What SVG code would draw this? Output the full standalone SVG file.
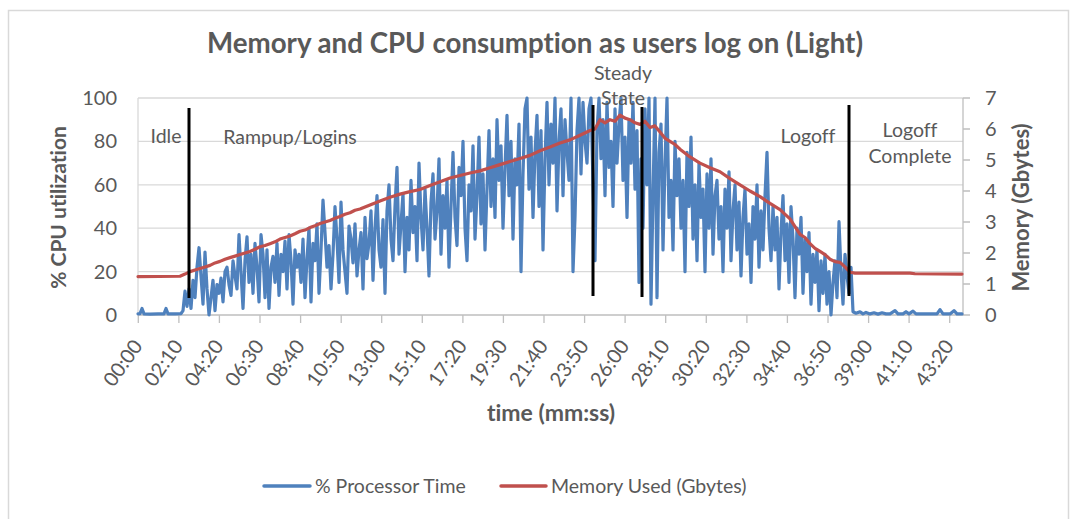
<svg xmlns="http://www.w3.org/2000/svg" width="1074" height="519" viewBox="0 0 1074 519">
<style>
text{font-family:Lato,"Open Sans","Liberation Sans",sans-serif;fill:#595959;font-variant-ligatures:none}
.t{font-size:19.5px}
.ax{font-size:20px}
.b{font-weight:bold;font-size:21px}
.grid{stroke:#d9d9d9;stroke-width:1.3;fill:none}
.axis{stroke:#bfbfbf;stroke-width:1.3;fill:none}
.cpu{fill:none;stroke:#4f81bd;stroke-width:3.2;stroke-linejoin:round;stroke-linecap:round}
.mem{fill:none;stroke:#c0504d;stroke-width:3.2;stroke-linejoin:round;stroke-linecap:round}
.mark{stroke:#000;stroke-width:3}
</style>
<rect x="8.5" y="10.5" width="1060" height="530" fill="#fff" stroke="#d9d9d9" stroke-width="1.5"/>
<g id="title"><text x="535" y="53" text-anchor="middle" style="font-size:27.7px;font-weight:bold">Memory and CPU consumption as users log on (Light)</text></g>
<g id="grid">
<path class="grid" d="M138,98H963M138,141.4H963M138,184.8H963M138,228.2H963M138,271.6H963M138,98V315"/>
</g>
<g id="axes">
<path class="axis" d="M138,315H963M963,98V315M963,98h7M963,129h7M963,160h7M963,191h7M963,222h7M963,253h7M963,284h7M963,315h7"/>
<path class="axis" d="M138.3,315v8M178.9,315v8M219.4,315v8M260,315v8M300.6,315v8M341.2,315v8M381.7,315v8M422.3,315v8M462.9,315v8M503.4,315v8M544,315v8M584.6,315v8M625.1,315v8M665.7,315v8M706.3,315v8M746.9,315v8M787.4,315v8M828,315v8M868.6,315v8M909.1,315v8M949.7,315v8"/>
<g class="ax" text-anchor="end">
<text x="117" y="105">100</text><text x="117" y="148.4">80</text><text x="117" y="191.8">60</text><text x="117" y="235.2">40</text><text x="117" y="278.6">20</text><text x="117" y="322">0</text>
</g>
<g class="ax">
<text x="985" y="105">7</text><text x="985" y="136">6</text><text x="985" y="167">5</text><text x="985" y="198">4</text><text x="985" y="229">3</text><text x="985" y="260">2</text><text x="985" y="291">1</text><text x="985" y="322">0</text>
</g>
<g class="ax" text-anchor="end">
<text transform="translate(143.3,346) rotate(-55)">00:00</text>
<text transform="translate(183.9,346) rotate(-55)">02:10</text>
<text transform="translate(224.4,346) rotate(-55)">04:20</text>
<text transform="translate(265,346) rotate(-55)">06:30</text>
<text transform="translate(305.6,346) rotate(-55)">08:40</text>
<text transform="translate(346.2,346) rotate(-55)">10:50</text>
<text transform="translate(386.7,346) rotate(-55)">13:00</text>
<text transform="translate(427.3,346) rotate(-55)">15:10</text>
<text transform="translate(467.9,346) rotate(-55)">17:20</text>
<text transform="translate(508.4,346) rotate(-55)">19:30</text>
<text transform="translate(549,346) rotate(-55)">21:40</text>
<text transform="translate(589.6,346) rotate(-55)">23:50</text>
<text transform="translate(630.1,346) rotate(-55)">26:00</text>
<text transform="translate(670.7,346) rotate(-55)">28:10</text>
<text transform="translate(711.3,346) rotate(-55)">30:20</text>
<text transform="translate(751.9,346) rotate(-55)">32:30</text>
<text transform="translate(792.4,346) rotate(-55)">34:40</text>
<text transform="translate(833,346) rotate(-55)">36:50</text>
<text transform="translate(873.6,346) rotate(-55)">39:00</text>
<text transform="translate(914.1,346) rotate(-55)">41:10</text>
<text transform="translate(954.7,346) rotate(-55)">43:20</text>
</g>
<text class="b" transform="translate(66,207.5) rotate(-90)" text-anchor="middle">% CPU utilization</text>
<text class="b" transform="translate(1029,207.5) rotate(-90)" text-anchor="middle" style="font-size:22px">Memory (Gbytes)</text>
<text class="b" x="551" y="421" text-anchor="middle" style="font-size:23px">time (mm:ss)</text>
</g>
<g id="series-cpu">
<polyline class="cpu" vector-effect="non-scaling-stroke" transform="matrix(1,0,0,-2.17,0,315)" points="138,0.5 140,0.6 142,3 144,0.5 150,0.4 158,0.5 164,0.5 166,3 168,0.5 175,0.5 181,0.6 183,2 185,11 187,4 189,12 191,3 193,16 195,8 197,22 199,31 201,18 203,5 205,29 207,12 209,0 211,8 213,16 215,2 217,14 219,10 221,17 223,6 225,20 227,22 229,14 231,9 233,25 235,18 237,12 239,37 241,20 243,3 245,25 247,36 249,15 251,28 253,10 255,33 257,22 259,6 261,37 263,28 265,8 267,30 269,3 271,22 273,27 275,15 277,33 279,9 281,28 283,20 285,34 287,12 289,37 291,25 293,5 295,30 297,22 299,28 301,15 303,35 305,8 307,26 309,40 311,6 313,33 315,25 317,42 319,10 321,30 323,53 325,38 327,22 329,32 331,12 333,28 335,50 337,35 339,15 341,52 343,30 345,20 347,10 349,41 351,35 353,24 355,42 357,18 359,30 361,38 363,12 365,45 367,26 369,33 371,48 373,16 375,40 377,55 379,30 381,22 383,44 385,10 387,48 389,60 391,35 393,25 395,50 397,68 399,28 401,42 403,56 405,20 407,45 409,30 411,62 413,38 415,50 417,25 419,70 421,45 423,30 425,58 427,40 429,18 431,52 433,65 435,35 437,48 439,72 441,28 443,55 445,40 447,62 449,22 451,50 453,75 455,45 457,32 459,68 461,55 463,80 465,40 467,25 469,60 471,48 473,78 475,35 477,55 479,82 481,42 483,65 485,30 487,58 489,85 491,50 493,72 495,45 497,90 499,62 501,78 503,40 505,68 507,92 509,55 511,80 513,35 515,72 517,60 519,88 521,20 523,65 525,95 527,100 529,58 531,82 533,45 535,75 537,92 539,50 541,85 543,30 545,72 547,98 549,60 551,88 553,70 555,100 557,48 559,80 561,95 563,55 565,90 567,75 569,62 571,100 573,20 575,45 577,85 579,100 581,65 583,98 585,80 587,70 589,95 591,100 593,60 595,25 597,85 599,100 601,72 603,90 605,55 607,98 609,68 611,80 613,50 615,95 617,70 619,88 621,100 623,62 625,82 627,45 629,90 631,70 633,98 635,58 637,85 639,15 641,72 643,40 645,95 647,60 649,100 651,5 653,55 655,100 657,8 659,75 661,88 663,30 665,70 667,100 669,45 671,62 673,30 675,80 677,55 679,72 681,40 683,62 685,20 687,75 689,50 691,82 693,35 695,60 697,25 699,70 701,45 703,58 705,20 707,65 709,40 711,72 713,28 715,55 717,62 719,35 721,50 723,20 725,58 727,40 729,66 731,25 733,48 735,60 737,30 739,52 741,18 743,45 745,58 747,28 749,42 751,15 753,50 755,35 757,60 759,22 761,48 763,30 765,55 767,75 769,40 771,25 773,50 775,30 777,45 779,12 781,38 783,55 785,25 787,42 789,15 791,50 793,35 795,8 797,40 799,28 801,45 803,10 805,35 807,20 809,38 811,5 813,28 815,15 817,30 819,2 821,25 823,10 825,28 827,5 829,20 831,0 833,15 835,25 837,8 839,43 841,20 843,5 845,28 847,18 849,10 851,22 853,1.5 856,0.8 860,1.5 863,0.5 866,1.2 870,0.5 874,1 878,0.4 882,1 886,0.5 890,0.5 895,2 898,0.5 903,0.5 906,1.5 909,0.5 913,1.8 916,0.5 920,0.5 930,0.5 937,0.5 940,2.5 943,0.5 950,0.5 954,2 957,0.5 962,0.5"/>
</g>
<g id="series-memory">
<polyline class="mem" vector-effect="non-scaling-stroke" transform="matrix(1,0,0,-31,0,315)" points="138,1.24 180,1.25 185,1.32 190,1.4 195,1.45 200,1.5 205,1.55 210,1.6 215,1.68 220,1.73 225,1.8 230,1.85 235,1.9 240,1.95 245,2.0 250,2.05 255,2.12 260,2.2 265,2.24 270,2.3 275,2.36 280,2.45 285,2.5 290,2.55 295,2.62 300,2.7 305,2.74 310,2.82 315,2.88 320,2.95 325,3.0 330,3.05 335,3.12 340,3.18 345,3.25 350,3.3 355,3.38 360,3.42 370,3.55 380,3.68 390,3.8 400,3.9 410,3.98 420,4.05 430,4.18 440,4.3 450,4.42 460,4.5 470,4.58 480,4.65 490,4.75 500,4.85 510,4.95 520,5.05 530,5.15 540,5.3 550,5.42 560,5.55 570,5.65 580,5.8 590,5.95 595,6.0 600,6.3 605,6.2 610,6.3 615,6.25 620,6.45 625,6.35 630,6.3 635,6.2 640,6.15 645,6.25 650,6.05 655,6.1 660,5.9 665,5.7 670,5.6 675,5.5 680,5.35 690,5.1 700,4.9 710,4.75 720,4.62 730,4.4 740,4.2 750,4.0 760,3.82 770,3.6 780,3.4 790,3.1 800,2.6 805,2.5 810,2.3 815,2.15 820,2.05 825,1.95 830,1.8 835,1.72 840,1.7 845,1.55 850,1.38 855,1.35 910,1.35 915,1.33 962,1.32"/>
</g>
<g id="phase-markers">
<path class="mark" d="M189,108V298M593,105V296M642,107V297M849,105V296"/>
</g>
<g id="annotations" class="t" text-anchor="middle">
<text x="166" y="143">Idle</text>
<text x="290" y="144">Rampup/Logins</text>
<text x="623" y="80">Steady</text>
<text x="623" y="105">State</text>
<text x="808" y="143">Logoff</text>
<text x="910" y="137">Logoff</text>
<text x="910" y="163">Complete</text>
</g>
<g id="legend">
<line x1="264" y1="486" x2="310" y2="486" stroke="#4f81bd" stroke-width="3.5" stroke-linecap="round"/>
<text class="t" x="315" y="493">% Processor Time</text>
<line x1="501" y1="486" x2="546" y2="486" stroke="#c0504d" stroke-width="3.5" stroke-linecap="round"/>
<text class="t" x="551" y="493">Memory Used (Gbytes)</text>
</g>
</svg>
